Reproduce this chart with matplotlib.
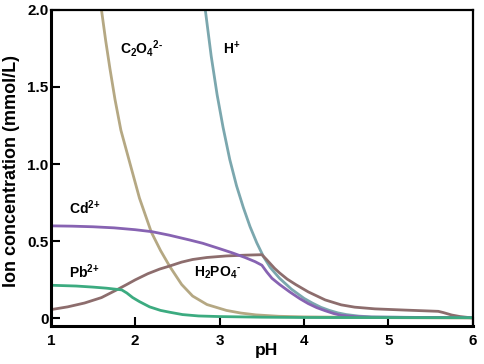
import matplotlib
matplotlib.use("Agg")
import matplotlib.pyplot as plt

plt.rcParams['font.family'] = ['Liberation Sans', 'DejaVu Sans']
plt.rcParams['font.weight'] = 'bold'
plt.rcParams['mathtext.fontset'] = 'custom'
plt.rcParams['mathtext.rm'] = 'Liberation Sans:bold'
plt.rcParams['mathtext.bf'] = 'Liberation Sans:bold'
plt.rcParams['mathtext.it'] = 'Liberation Sans:bold'
plt.rcParams['mathtext.default'] = 'rm'

# C2O4^2-
c2o4_ph = [1.60, 1.65, 1.70, 1.76, 1.83, 1.93, 2.05, 2.19, 2.30, 2.41, 2.55, 2.68, 2.85, 3.08, 3.25, 3.43, 3.70, 4.0, 5.0, 6.0]
c2o4_y  = [2.0, 1.80, 1.62, 1.42, 1.22, 1.02, 0.78, 0.56, 0.44, 0.336, 0.22, 0.145, 0.09, 0.052, 0.035, 0.023, 0.014, 0.01, 0.005, 0.003]

# H+
h_ph = [2.83, 2.90, 2.97, 3.04, 3.12, 3.20, 3.28, 3.36, 3.44, 3.52, 3.60, 3.71, 3.85, 4.0, 4.10, 4.20, 4.30, 4.40, 4.50, 4.65, 4.8, 5.2, 6.0]
h_y  = [2.0, 1.70, 1.45, 1.24, 1.03, 0.86, 0.72, 0.595, 0.49, 0.40, 0.33, 0.26, 0.19, 0.13, 0.099, 0.072, 0.052, 0.036, 0.025, 0.015, 0.01, 0.007, 0.005]

# Cd2+
cd_ph = [1.0, 1.25, 1.5, 1.75, 2.0, 2.2, 2.4, 2.64, 2.8, 3.0, 3.15, 3.3, 3.42, 3.50, 3.56, 3.62, 3.71, 3.83, 3.95, 4.05, 4.15, 4.25, 4.35, 4.44, 4.6, 4.8, 6.0]
cd_y  = [0.600, 0.598, 0.594, 0.587, 0.575, 0.562, 0.540, 0.509, 0.487, 0.452, 0.425, 0.395, 0.368, 0.345, 0.30, 0.26, 0.22, 0.172, 0.128, 0.096, 0.07, 0.05, 0.032, 0.02, 0.012, 0.008, 0.005]

# H2PO4-
hp_ph = [1.0, 1.2, 1.4, 1.6, 1.78, 1.9, 2.0, 2.15, 2.29, 2.41, 2.55, 2.68, 2.85, 3.08, 3.3, 3.50, 3.55, 3.60, 3.65, 3.71, 3.80, 3.90, 4.05, 4.25, 4.44, 4.6, 4.84, 5.2, 5.59, 5.65, 5.75, 5.85, 5.98, 6.0]
hp_y  = [0.057, 0.075, 0.100, 0.135, 0.185, 0.22, 0.25, 0.29, 0.32, 0.34, 0.365, 0.382, 0.395, 0.405, 0.41, 0.413, 0.385, 0.355, 0.325, 0.295, 0.255, 0.22, 0.172, 0.12, 0.088, 0.073, 0.062, 0.054, 0.046, 0.038, 0.022, 0.012, 0.004, 0.003]

# Pb2+
pb_ph = [1.0, 1.3, 1.5, 1.66, 1.84, 1.90, 1.97, 2.05, 2.17, 2.30, 2.41, 2.56, 2.75, 3.0, 3.5, 4.0, 6.0]
pb_y  = [0.215, 0.21, 0.203, 0.196, 0.185, 0.165, 0.135, 0.109, 0.075, 0.052, 0.04, 0.025, 0.016, 0.012, 0.008, 0.006, 0.005]

x_ticks = [1, 2, 3, 4, 5, 6]
y_ticks = [0, 0.5, 1.0, 1.5, 2.0]
y_tick_labels = ['0', '0.5', '1.0', '1.5', '2.0']

fig = plt.figure(figsize=(4.84, 3.64), dpi=100)
ax = fig.add_axes([0.105, 0.104, 0.872, 0.869])

lw = 2.0
ax.plot(c2o4_ph, c2o4_y, color='#b5a883', lw=lw)
ax.plot(h_ph, h_y, color='#7ba7ae', lw=lw)
ax.plot(hp_ph, hp_y, color='#8d6d6d', lw=lw)
ax.plot(cd_ph, cd_y, color='#8763b2', lw=lw)
ax.plot(pb_ph, pb_y, color='#3cab80', lw=lw)

ax.set_xlim(1, 6)
ax.set_ylim(-0.05, 2.0)
ax.set_xticks(x_ticks)
ax.set_yticks(y_ticks)
ax.set_yticklabels(y_tick_labels)
ax.tick_params(direction='in', length=6.5, width=1.5, labelsize=11)
ax.tick_params(axis='x', pad=5.5)
ax.tick_params(axis='y', pad=1.5)
for lab in ax.get_xticklabels() + ax.get_yticklabels():
    lab.set_fontweight('bold')
for s in ['left', 'bottom']:
    ax.spines[s].set_linewidth(2.2)
for s in ['top', 'right']:
    ax.spines[s].set_linewidth(1.6)

ax.set_xlabel('pH', fontsize=12.5, fontweight='bold')
ax.xaxis.set_label_coords(0.51, -0.052)
ax.set_ylabel('Ion concentration (mmol/L)', fontsize=13, fontweight='bold')
ax.yaxis.set_label_coords(-0.072, 0.49)

fs = 10
ax.text(1.82, 1.75, 'C$_{2}$O$_{4}$$^{\\text{2-}}$', fontsize=fs, fontweight='bold', va='center')
ax.text(3.04, 1.75, 'H$^{\\text{+}}$', fontsize=fs, fontweight='bold', va='center')
ax.text(1.22, 0.716, 'Cd$^{\\text{2+}}$', fontsize=fs, fontweight='bold', va='center')
ax.text(1.22, 0.306, 'Pb$^{\\text{2+}}$', fontsize=fs, fontweight='bold', va='center')
ax.text(2.70, 0.297, 'H$_{2}$PO$_{4}$$^{\\text{-}}$', fontsize=fs, fontweight='bold', va='center')

fig.savefig('out.png', dpi=100)
